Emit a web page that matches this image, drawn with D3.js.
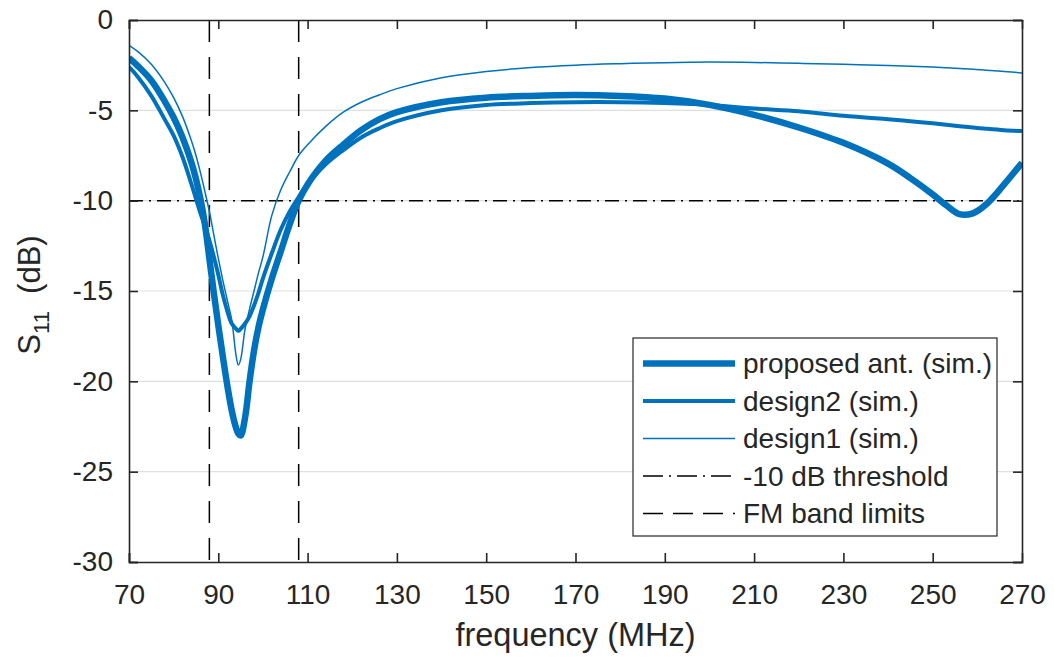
<!DOCTYPE html>
<html>
<head>
<meta charset="utf-8">
<script src="https://cdn.jsdelivr.net/npm/d3@7"></script>
<style>
  body { margin: 0; background: #fff; }
  text { font-family: 'Liberation Sans', Arial, sans-serif; fill: #262626; }
</style>
</head>
<body>
<svg id="chart" width="1054" height="660"></svg>
<script>
// frequency grid (MHz), shared by all three simulated curves
var freq = [70, 72, 75, 78, 80, 82, 84, 85, 86, 87, 88, 89, 90, 91, 92, 93, 94, 94.5, 95, 96,
  97, 98, 99, 100, 102, 104, 106, 108, 110, 114, 118, 122, 126, 130, 140, 150, 160, 170, 180,
  190, 200, 210, 220, 230, 240, 245, 250, 253, 256, 259, 262, 266, 270];

// S11 in dB
var proposed = [-2.1, -2.55, -3.35, -4.5, -5.4, -6.5, -7.9, -8.8, -9.9, -11.3, -13.2, -15.1, -16.9, -18.6, -20.2, -21.6, -22.6, -22.9, -23.0, -22.0,
  -20.0, -18.3, -17.0, -16.0, -14.3, -12.8, -11.3, -10.0, -9.1, -7.8, -6.9, -6.1, -5.5, -5.1, -4.55, -4.3, -4.2, -4.15, -4.2,
  -4.35, -4.7, -5.25, -5.95, -6.8, -7.95, -8.75, -9.65, -10.25, -10.75, -10.7, -10.2, -9.1, -7.9];

var design2 = [-2.6, -3.15, -4.2, -5.5, -6.4, -7.6, -9.1, -9.9, -10.7, -11.4, -12.2, -13.1, -14.1, -15.2, -16.1, -16.8, -17.1, -17.2, -17.1, -16.8,
  -16.4, -15.8, -15.1, -14.3, -12.9, -11.6, -10.6, -9.8, -9.1, -8.0, -7.2, -6.5, -6.0, -5.6, -5.0, -4.7, -4.6, -4.55, -4.55,
  -4.6, -4.7, -4.9, -5.05, -5.3, -5.5, -5.6, -5.72, -5.8, -5.88, -5.95, -6.02, -6.1, -6.15];

var design1 = [-1.4, -1.75, -2.45, -3.45, -4.3, -5.35, -6.7, -7.5, -8.45, -9.5, -10.6, -11.9, -13.2, -14.4, -15.5, -16.6, -18.6, -19.1, -18.8, -17.1,
  -16.0, -15.0, -14.0, -13.1, -10.8, -9.4, -8.4, -7.5, -6.9, -5.9, -5.1, -4.55, -4.15, -3.8, -3.2, -2.85, -2.63, -2.5, -2.42,
  -2.36, -2.33, -2.35, -2.4, -2.45, -2.52, -2.56, -2.6, -2.64, -2.68, -2.72, -2.78, -2.85, -2.93];

var threshold = -10;
var fmBand = [88, 108];

var xTicks = [70, 90, 110, 130, 150, 170, 190, 210, 230, 250, 270];
var yTicks = [-30, -25, -20, -15, -10, -5, 0];

var legendLabels = ['proposed ant. (sim.)', 'design2 (sim.)', 'design1 (sim.)', '-10 dB threshold', 'FM band limits'];

var blue = '#0072BD';
var ink = '#262626';

var margin = { top: 20, right: 32, bottom: 98, left: 129 };
var w = 1054, h = 660;

var svg = d3.select('#chart');

var x = d3.scaleLinear()
  .domain([70, 270])
  .range([margin.left, w - margin.right]);

var y = d3.scaleLinear()
  .domain([-30, 0])
  .range([h - margin.bottom, margin.top]);

// grid lines
svg.append('g')
  .attr('class', 'grid')
  .selectAll('line')
  .data(yTicks.filter(d => d > -30 && d < 0))
  .enter()
  .append('line')
    .attr('x1', x(70))
    .attr('x2', x(270))
    .attr('y1', d => y(d))
    .attr('y2', d => y(d))
    .attr('stroke', '#dfdfdf')
    .attr('stroke-width', 1.2);

svg.append('clipPath')
    .attr('id', 'plot-clip')
  .append('rect')
    .attr('x', x(70))
    .attr('y', y(0))
    .attr('width', x(270) - x(70))
    .attr('height', y(-30) - y(0));

var plot = svg.append('g').attr('clip-path', 'url(#plot-clip)');

// -10 dB threshold
plot.append('line')
  .attr('x1', x(70))
  .attr('x2', x(270))
  .attr('y1', y(threshold))
  .attr('y2', y(threshold))
  .attr('stroke', '#000')
  .attr('stroke-width', 1.5)
  .attr('stroke-dasharray', '14,6,2,6');

// FM band limits
plot.selectAll('.fm-line')
  .data(fmBand)
  .enter()
  .append('line')
    .attr('class', 'fm-line')
    .attr('x1', d => x(d))
    .attr('x2', d => x(d))
    .attr('y1', y(0))
    .attr('y2', y(-30))
    .attr('stroke', '#000')
    .attr('stroke-width', 1.5)
    .attr('stroke-dasharray', '22,15');

var line = d3.line()
  .x(d => x(d[0]))
  .y(d => y(d[1]))
  .curve(d3.curveCatmullRom.alpha(0.5));

var series = [
  { name: 'design1', values: design1, width: 1.5 },
  { name: 'design2', values: design2, width: 4 },
  { name: 'proposed', values: proposed, width: 6.5 }
];

plot.selectAll('.curve')
  .data(series)
  .enter()
  .append('path')
    .attr('class', 'curve')
    .attr('d', s => line(freq.map((f, i) => [f, s.values[i]])))
    .attr('fill', 'none')
    .attr('stroke', blue)
    .attr('stroke-width', s => s.width)
    .attr('stroke-linejoin', 'round');

// axes, ticks pointing inward
var xAxis = d3.axisBottom(x).tickValues(xTicks).tickSize(-9).tickPadding(22).tickFormat(d3.format('d'));
var xAxisTop = d3.axisTop(x).tickValues(xTicks).tickSize(-9).tickFormat('');
var yAxis = d3.axisLeft(y).tickValues(yTicks).tickSize(-9).tickPadding(16).tickFormat(d => d);
var yAxisRight = d3.axisRight(y).tickValues(yTicks).tickSize(-9).tickFormat('');

function styleAxis(g) {
  g.selectAll('.domain').attr('stroke', ink).attr('stroke-width', 1.6);
  g.selectAll('.tick line').attr('stroke', ink).attr('stroke-width', 1.6);
  g.selectAll('.tick text').attr('font-size', 28).style('fill', ink);
}

svg.append('g')
  .attr('transform', 'translate(0,' + y(-30) + ')')
  .call(xAxis).call(styleAxis);
svg.append('g')
  .attr('transform', 'translate(0,' + y(0) + ')')
  .call(xAxisTop).call(styleAxis);
svg.append('g')
  .attr('transform', 'translate(' + x(70) + ',0)')
  .call(yAxis).call(styleAxis);
svg.append('g')
  .attr('transform', 'translate(' + x(270) + ',0)')
  .call(yAxisRight).call(styleAxis);

svg.selectAll('.domain').attr('d', function() {
  return d3.select(this).attr('d').replace(/V-?9|V9/g, 'V0');
});

// axis labels
svg.append('text')
  .attr('x', (x(70) + x(270)) / 2)
  .attr('y', 646)
  .attr('text-anchor', 'middle')
  .attr('font-size', 32.5)
  .text('frequency (MHz)');

var yLabel = svg.append('text')
  .attr('transform', 'translate(40,' + ((y(0) + y(-30)) / 2 + 4) + ') rotate(-90)')
  .attr('text-anchor', 'middle')
  .attr('font-size', 31);
yLabel.append('tspan').text('S');
yLabel.append('tspan').attr('font-size', 22).attr('dy', 9).text('11');
yLabel.append('tspan').attr('dy', -9).text('\u00a0 (dB)');

// legend
var legend = svg.append('g').attr('transform', 'translate(633,338)');

legend.append('rect')
  .attr('width', 364)
  .attr('height', 198)
  .attr('fill', '#fff')
  .attr('stroke', ink)
  .attr('stroke-width', 1.2);

var legendStyles = [
  { width: 6.5, color: blue, dash: null },
  { width: 4, color: blue, dash: null },
  { width: 1.5, color: blue, dash: null },
  { width: 1.5, color: '#000', dash: '20,6,2,6' },
  { width: 1.5, color: '#000', dash: '20,10' }
];

var rows = legend.selectAll('.legend-row')
  .data(legendLabels)
  .enter()
  .append('g')
    .attr('class', 'legend-row')
    .attr('transform', (d, i) => 'translate(0,' + (25.5 + i * 37.5) + ')');

rows.append('line')
  .attr('x1', 10)
  .attr('x2', 102)
  .attr('stroke', (d, i) => legendStyles[i].color)
  .attr('stroke-width', (d, i) => legendStyles[i].width)
  .attr('stroke-dasharray', (d, i) => legendStyles[i].dash);

rows.append('text')
  .attr('x', 110)
  .attr('dy', '0.35em')
  .attr('font-size', 28)
  .text(d => d);
</script>
</body>
</html>
